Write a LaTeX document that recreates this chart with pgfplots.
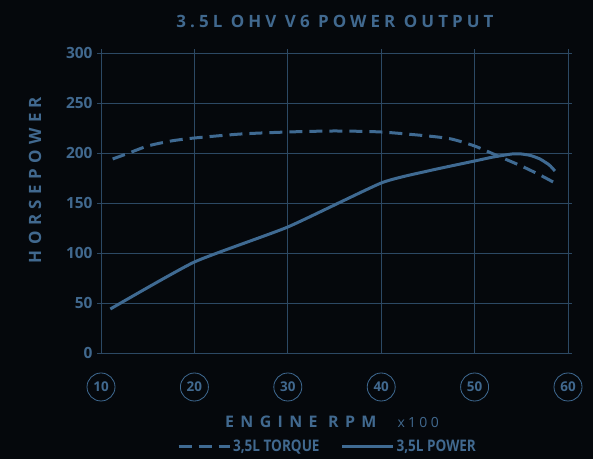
\documentclass[border=0pt]{standalone}
\usepackage{fontspec}
\setmainfont{Open Sans}
\newfontfamily\spaced[LetterSpace=24]{Open Sans}
\newfontfamily\spacedy[LetterSpace=32]{Open Sans}
\newfontfamily\spacedx[LetterSpace=40]{Open Sans}
\newfontfamily\narrow[FakeStretch=0.85]{Open Sans}
\usepackage{pgfplots}
\pgfplotsset{compat=1.18}
\definecolor{bg}{HTML}{05080C}
\definecolor{linec}{HTML}{3F6A92}
\definecolor{textc}{HTML}{41698F}
\definecolor{gridc}{HTML}{2C4964}
\begin{document}
\begin{tikzpicture}[x=1bp,y=1bp]
\fill[bg] (0,0) rectangle (593,459);
\useasboundingbox (0,0) rectangle (593,459);
\begin{axis}[
  at={(101bp,106bp)}, anchor=origin,
  scale only axis, width=467bp, height=304bp,
  xmin=10, xmax=60, ymin=0, ymax=304,
  xtick={10,20,30,40,50,60},
  ytick={0,50,100,150,200,250,300},
  grid=major,
  grid style={gridc, line width=0.9bp},
  axis line style={draw=none},
  tick align=outside,
  xtick style={draw=none},
  ytick style={gridc, line width=0.9bp},
  major tick length=4bp,
  /pgf/number format/assume math mode=true,
  yticklabel style={font=\fontsize{15.5}{15.5}\selectfont\bfseries, text=textc, anchor=east, xshift=-1bp},
  xticklabel style={font=\fontsize{13.5}{13.5}\selectfont\bfseries, text=textc, circle, draw=linec, line width=0.8bp, inner sep=0pt, minimum size=28bp, anchor=center, yshift=-30bp},
  legend style={draw=none, fill=none, text=textc, font=\narrow\fontsize{16}{16}\selectfont\bfseries,
    at={(0.485,-0.309)}, anchor=center, legend columns=-1,
    /tikz/every even column/.append style={column sep=19bp}},
  legend image code/.code={\draw[#1, line width=3bp] (0bp,0bp) -- (51bp,0bp);},
  clip=false,
]
\addplot[linec, line width=3bp, dash pattern=on 13bp off 7bp, smooth, tension=0.4] coordinates {
(11.25,194) (13,200) (15,207) (17.5,212) (20,215) (25,219) (30,221) (35,222) (40,221) (45,217) (47.5,214) (50,207) (52.5,197) (55,187) (57,178) (58.6,170)
};
\addlegendentry{3,5L TORQUE}
\addplot[linec, line width=3bp, smooth, tension=0.3] coordinates {
(11,44) (20,91) (30,126) (40,170) (45,182) (50,192) (52,196) (54,199) (55,199) (56,197.5) (57,194) (58,188) (58.6,182)
};
\addlegendentry{3,5L POWER}
\end{axis}
\node[text=textc, font=\spaced\fontsize{17}{17}\selectfont\bfseries] at (335,438) {3.5L OHV V6 POWER OUTPUT};
\node[text=textc, rotate=90, font=\spacedy\fontsize{17}{17}\selectfont\bfseries] at (35,279) {HORSEPOWER};
\node[text=textc, font=\spacedx\fontsize{16}{16}\selectfont\bfseries, anchor=base east] at (380,31) {ENGINE RPM};
\node[text=textc, font=\spaced\fontsize{14}{14}\selectfont, anchor=base west] at (394,31) {x100};
\end{tikzpicture}
\end{document}
